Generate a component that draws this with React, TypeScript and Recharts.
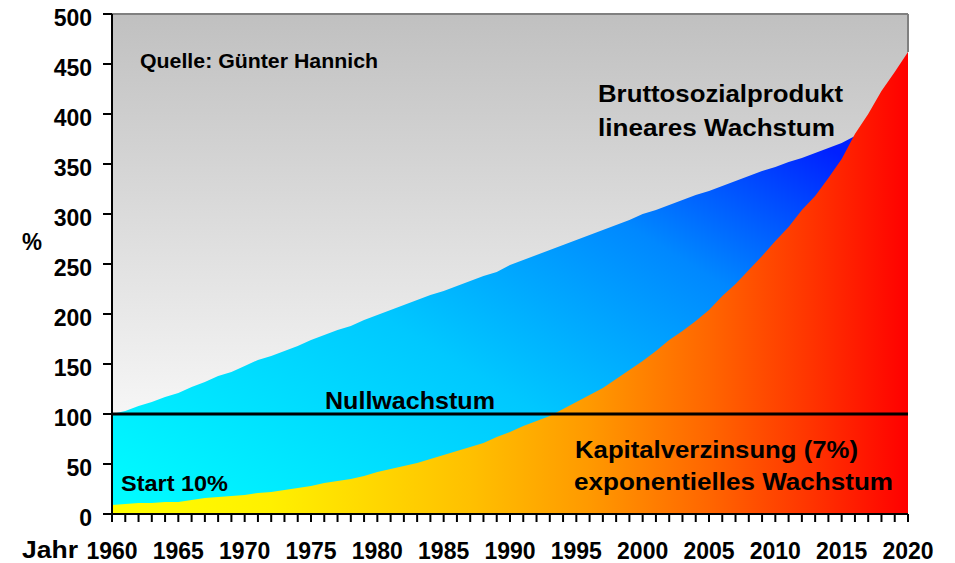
import React from 'react'
import { ComposedChart, Area, XAxis, YAxis, CartesianGrid, ReferenceLine } from 'recharts'

// years 1960..2020
const years = [
  1960, 1961, 1962, 1963, 1964, 1965, 1966, 1967, 1968, 1969,
  1970, 1971, 1972, 1973, 1974, 1975, 1976, 1977, 1978, 1979,
  1980, 1981, 1982, 1983, 1984, 1985, 1986, 1987, 1988, 1989,
  1990, 1991, 1992, 1993, 1994, 1995, 1996, 1997, 1998, 1999,
  2000, 2001, 2002, 2003, 2004, 2005, 2006, 2007, 2008, 2009,
  2010, 2011, 2012, 2013, 2014, 2015, 2016, 2017, 2018, 2019,
  2020,
]

// Bruttosozialprodukt (lineares Wachstum)
const bsp = [
  100, 103, 108, 112, 117, 121, 127, 132, 138, 142,
  148, 154, 158, 163, 168, 174, 179, 184, 188, 194,
  199, 204, 209, 214, 219, 223, 228, 233, 238, 242,
  249, 254, 259, 264, 269, 274, 279, 284, 289, 294,
  300, 304, 309, 314, 319, 323, 328, 333, 338, 343,
  347, 352, 356, 361, 366, 371, 378, 382, 387, 391,
  396,
]

// Kapitalverzinsung 7% (exponentielles Wachstum)
const kapital = [
  9, 10, 11, 11, 12, 12, 14, 16, 17, 18,
  19, 21, 22, 24, 26, 28, 31, 33, 35, 38,
  42, 45, 48, 51, 55, 59, 63, 67, 71, 77,
  82, 88, 93, 98, 105, 112, 119, 126, 135, 144,
  153, 163, 174, 183, 193, 204, 218, 230, 244, 258,
  273, 287, 304, 318, 336, 355, 380, 400, 423, 442,
  462,
]

const yTicks = [0, 50, 100, 150, 200, 250, 300, 350, 400, 450, 500]

const data = years.map((year, i) => ({ year, bsp: bsp[i], kapital: kapital[i] }))

const FONT = '"Liberation Sans", Arial, sans-serif'

// tick mark for every year, label only every 5 years
const XTick = (props: any) => {
  const { x, y, payload } = props
  return (
    <g>
      <line x1={x} x2={x} y1={y - 10} y2={y - 2} stroke="#000" strokeWidth={2} />
      {payload.value % 5 === 0 && (
        <text x={x} y={y + 35} textAnchor="middle" fontFamily={FONT} fontWeight="bold" fontSize={23} fill="#000">
          {payload.value}
        </text>
      )}
    </g>
  )
}

const YTick = (props: any) => {
  const { x, y, payload } = props
  return (
    <g>
      <line x1={x + 1} x2={x + 10} y1={y} y2={y} stroke="#000" strokeWidth={2} />
      <text x={x - 10} y={y + 12} textAnchor="end" fontFamily={FONT} fontWeight="bold" fontSize={23} fill="#000">
        {payload.value}
      </text>
    </g>
  )
}

// free text, fitted to its width in the picture
const Txt = ({ x, y, w, size, children }: any) => (
  <text x={x} y={y} textLength={w} lengthAdjust="spacingAndGlyphs" fontFamily={FONT} fontWeight="bold" fontSize={size} fill="#000">
    {children}
  </text>
)

export default function App() {
  return (
    <div style={{ position: 'absolute', left: 0, top: 0, width: 955, height: 563, background: '#fff' }}>
      <ComposedChart width={955} height={563} data={data} margin={{ top: 14, right: 47, left: 0, bottom: 0 }}>
        <defs>
          <linearGradient id="bg" x1="0" y1="0" x2="0" y2="1">
            <stop offset="0" stopColor="#c0c0c0" />
            <stop offset="0.83" stopColor="#f8f8f8" />
            <stop offset="1" stopColor="#ffffff" />
          </linearGradient>
          <linearGradient id="blueFill" x1="0" y1="1" x2="1" y2="0.2">
            <stop offset="0" stopColor="#00ffff" />
            <stop offset="0.45" stopColor="#00c8ff" />
            <stop offset="0.75" stopColor="#0088ff" />
            <stop offset="1" stopColor="#0020ff" />
          </linearGradient>
          <linearGradient id="redFill" x1="0" y1="0" x2="1" y2="0">
            <stop offset="0" stopColor="#ffff00" />
            <stop offset="0.2" stopColor="#fff000" />
            <stop offset="0.45" stopColor="#ffc000" />
            <stop offset="0.6" stopColor="#ff9900" />
            <stop offset="0.75" stopColor="#ff6600" />
            <stop offset="0.88" stopColor="#ff3300" />
            <stop offset="1" stopColor="#ff0000" />
          </linearGradient>
        </defs>
        <CartesianGrid horizontal={false} vertical={false} fill="url(#bg)" />
        <XAxis
          dataKey="year"
          type="number"
          domain={[1960, 2020]}
          ticks={years}
          interval={0}
          height={49}
          tickSize={8}
          tick={<XTick />}
          axisLine={{ stroke: '#000', strokeWidth: 2 }}
          tickLine={false}
        />
        <YAxis
          type="number"
          domain={[0, 500]}
          ticks={yTicks}
          interval={0}
          width={112}
          tickSize={8}
          tick={<YTick />}
          axisLine={{ stroke: '#000', strokeWidth: 2 }}
          tickLine={false}
        />
        <Area type="linear" dataKey="bsp" stroke="none" fill="url(#blueFill)" fillOpacity={1} isAnimationActive={false} />
        <Area type="linear" dataKey="kapital" stroke="none" fill="url(#redFill)" fillOpacity={1} isAnimationActive={false} />
        <ReferenceLine y={100} stroke="#000" strokeWidth={3} />
        <ReferenceLine y={500} stroke="#808080" strokeWidth={2} />
        <ReferenceLine
          segment={[{ x: 2020, y: kapital[kapital.length - 1] }, { x: 2020, y: 500 }]}
          stroke="#808080"
          strokeWidth={2}
        />
      </ComposedChart>
      <svg width={955} height={563} style={{ position: 'absolute', left: 0, top: 0, pointerEvents: 'none' }}>
        <Txt x={140} y={68} w={238} size={20}>Quelle: Günter Hannich</Txt>
        <Txt x={598} y={102} w={245} size={24}>Bruttosozialprodukt</Txt>
        <Txt x={598} y={136} w={237} size={24}>lineares Wachstum</Txt>
        <Txt x={325} y={409} w={170} size={24}>Nullwachstum</Txt>
        <Txt x={121} y={491} w={107} size={22}>Start 10%</Txt>
        <Txt x={575} y={458} w={283} size={24}>Kapitalverzinsung (7%)</Txt>
        <Txt x={574} y={490} w={319} size={24}>exponentielles Wachstum</Txt>
        <Txt x={22} y={250} w={20} size={23}>%</Txt>
        <Txt x={22} y={558} w={56} size={23}>Jahr</Txt>
      </svg>
    </div>
  )
}
